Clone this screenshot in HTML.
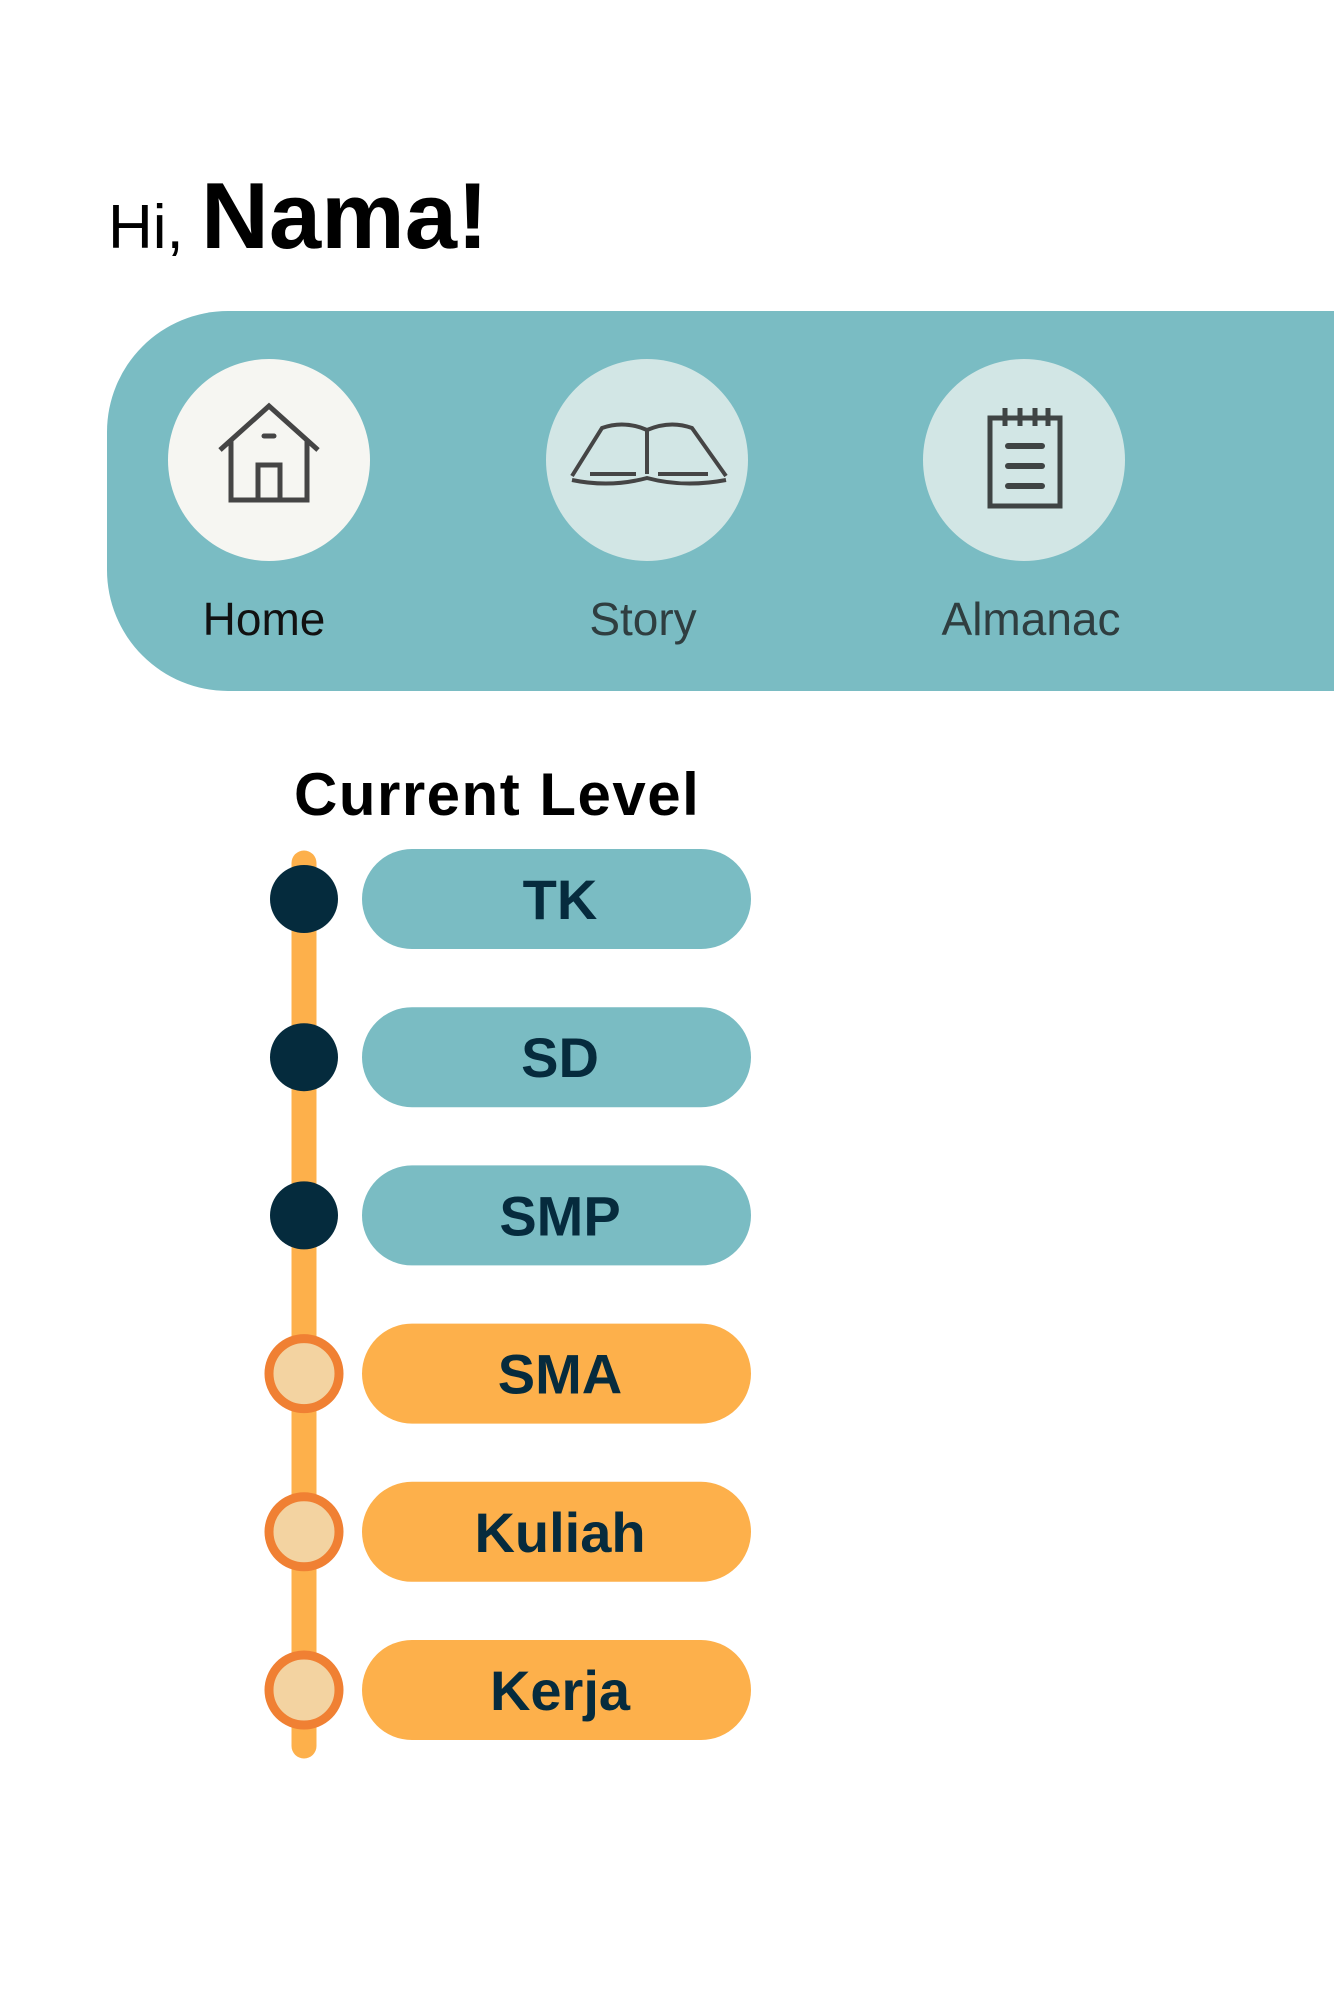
<!DOCTYPE html>
<html><head><meta charset="utf-8"><style>
body{margin:0;width:1334px;height:2001px;background:#fff;position:relative;overflow:hidden;font-family:"Liberation Sans",sans-serif}
.abs{position:absolute}
</style></head><body>
<div class="abs" style="left:108px;top:162px;height:100px;white-space:nowrap;color:#000">
<span style="font-size:62px;vertical-align:baseline">Hi, </span><span style="font-size:94px;font-weight:bold">Nama!</span></div>

<div class="abs" style="left:107px;top:311px;width:1227px;height:380px;background:#7abcc3;border-radius:121px 0 0 121px"></div>

<svg class="abs" style="left:0;top:0" width="1334" height="720">
 <g>
  <circle cx="269" cy="460" r="101" fill="#f6f6f2"/>
  <g fill="none" stroke="#454545" stroke-width="5">
   <polyline points="220,450 269,406 318,450"/>
   <polyline points="231,441 231,500 307,500 307,441"/>
   <rect x="258" y="465" width="22" height="35"/>
   <line x1="264" y1="436" x2="274" y2="436" stroke-linecap="round"/>
  </g>
 </g>
 <g>
  <circle cx="647" cy="460" r="101" fill="#d2e6e5"/>
  <g fill="none" stroke="#454545" stroke-width="4">
   <path d="M572,476 L602,428 Q624,420 647,430 Q670,420 692,428 L726,476"/>
   <line x1="647" y1="430" x2="647" y2="474"/>
   <path d="M572,480 Q610,488 647,478 Q684,488 726,480"/>
   <line x1="590" y1="474" x2="636" y2="474"/><line x1="658" y1="474" x2="708" y2="474"/>
  </g>
 </g>
 <g>
  <circle cx="1024" cy="460" r="101" fill="#d2e6e5"/>
  <g fill="none" stroke="#3f4444" stroke-width="5">
   <rect x="990" y="418" width="70" height="88"/>
   <line x1="1005" y1="408" x2="1005" y2="426"/><line x1="1020" y1="408" x2="1020" y2="426"/><line x1="1035" y1="408" x2="1035" y2="426"/><line x1="1048" y1="408" x2="1048" y2="426"/>
   <g stroke-linecap="round" stroke-width="6"><line x1="1008" y1="446" x2="1042" y2="446"/><line x1="1008" y1="466" x2="1042" y2="466"/><line x1="1008" y1="486" x2="1042" y2="486"/></g>
  </g>
 </g>
 <text x="264" y="635" font-size="46" text-anchor="middle" fill="#111" font-family="Liberation Sans">Home</text>
 <text x="643" y="635" font-size="46" text-anchor="middle" fill="#2f3e40" font-family="Liberation Sans">Story</text>
 <text x="1031" y="635" font-size="46" text-anchor="middle" fill="#2f3e40" font-family="Liberation Sans">Almanac</text>
</svg>

<div class="abs" style="left:294px;top:760px;font-size:60px;font-weight:bold;color:#000;white-space:nowrap;letter-spacing:1.5px">Current Level</div>

<svg class="abs" id="levels" style="left:0;top:0" width="1334" height="2001"></svg>
<script>
const levels=["TK","SD","SMP","SMA","Kuliah","Kerja"];
const completed=[true,true,true,false,false,false];
const NS="http://www.w3.org/2000/svg";
const svg=document.getElementById('levels');
const y0=899, step=158.2, lineX=304;
function yPos(i){return y0+i*step;}
function mk(t,a){const e=document.createElementNS(NS,t);for(const k in a)e.setAttribute(k,a[k]);svg.appendChild(e);return e;}
const ln=mk('line',{x1:lineX,x2:lineX,y1:yPos(0)-36,y2:yPos(levels.length-1)+56,stroke:'#fdb04b','stroke-width':25,'stroke-linecap':'round'});


levels.forEach((lv,i)=>{
 const y=yPos(i);
 const done=completed[i];
 const pill=mk('rect',{x:362,y:y-50,width:389,height:100,rx:50,fill:done?'#7abcc3':'#fdb04b'});
 
 
 const dot=done?mk('circle',{cx:lineX,cy:y,r:34,fill:'#052b3d'}):mk('circle',{cx:lineX,cy:y,r:35,fill:'#f3d3a1',stroke:'#f08033','stroke-width':9});
 
 
 const t=mk('text',{x:560,y:y+20,'text-anchor':'middle','font-size':56,'font-weight':'bold',fill:'#062b3d','font-family':'Liberation Sans'});
 t.textContent=lv;
 
 
});
</script>
</body></html>
